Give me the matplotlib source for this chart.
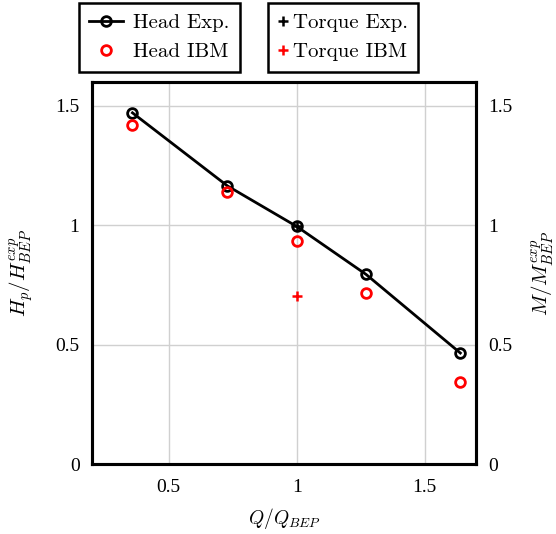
import matplotlib.pyplot as plt
from matplotlib.lines import Line2D

plt.rcParams['mathtext.fontset'] = 'cm'
plt.rcParams['font.family'] = ['Liberation Serif', 'DejaVu Serif']

# flow rate / BEP
q_head = [0.358, 0.729, 1.0, 1.271, 1.639]
head_exp = [1.471, 1.165, 0.995, 0.794, 0.465]
head_ibm = [1.42, 1.139, 0.936, 0.715, 0.343]
q_torque = [1.0]
torque_exp = [0.995]
torque_ibm = [0.704]

ticks_x = [0.5, 1, 1.5]
ticks_y = [0, 0.5, 1, 1.5]
tick_labels_y = ['0', '0.5', '1', '1.5']


def main():
    fig = plt.figure(figsize=(5.56, 5.34), dpi=100)
    ax = fig.add_axes([0.1655, 0.131, 0.6905, 0.7154])
    ax2 = ax.twinx()

    ax.plot(q_head, head_exp, color='k', linewidth=2.0, marker='o',
            markersize=7, markerfacecolor='none', markeredgewidth=2.0)
    ax.plot(q_head, head_ibm, linestyle='none', marker='o', markersize=7,
            markerfacecolor='none', markeredgecolor='red', markeredgewidth=2.0)
    ax2.plot(q_torque, torque_exp, linestyle='none', marker='+', color='k',
             markersize=7, markeredgewidth=1.8)
    ax2.plot(q_torque, torque_ibm, linestyle='none', marker='+', color='red',
             markersize=7, markeredgewidth=1.8)

    for a in (ax, ax2):
        a.set_xlim(0.2, 1.7)
        a.set_ylim(0, 1.6)
        a.set_yticks(ticks_y)
        a.set_yticklabels(tick_labels_y)
        a.tick_params(length=0, labelsize=14, pad=9)
        for s in a.spines.values():
            s.set_linewidth(2.2)
    ax.set_xticks(ticks_x)
    ax.set_xticklabels(['0.5', '1', '1.5'])
    ax.tick_params(axis='x', pad=11)
    ax.grid(True, color='#d0d0d0', linewidth=1.0)
    ax.set_axisbelow(True)

    ax.set_xlabel(r'$Q/Q_{BEP}$', fontsize=14, labelpad=7)
    ax.set_ylabel(r'$H_p/H_{BEP}^{exp}$', fontsize=15, labelpad=14)
    ax2.set_ylabel(r'$M/M_{BEP}^{exp}$', fontsize=15, labelpad=12)

    h1 = [Line2D([], [], color='k', linewidth=2.0, marker='o', markersize=7,
                 markerfacecolor='none', markeredgewidth=2.0),
          Line2D([], [], linestyle='none', marker='o', markersize=7,
                 markerfacecolor='none', markeredgecolor='red', markeredgewidth=2.0)]
    h2 = [Line2D([], [], linestyle='none', marker='+', color='k', markersize=7,
                 markeredgewidth=1.8),
          Line2D([], [], linestyle='none', marker='+', color='red', markersize=7,
                 markeredgewidth=1.8)]
    leg_font = {'family': 'cmr10', 'size': 15}
    leg1 = fig.legend(h1, ['Head Exp.', 'Head IBM'], loc='upper left',
                      bbox_to_anchor=(0.142, 0.994), borderaxespad=0,
                      prop=leg_font, fancybox=False, edgecolor='k',
                      handlelength=1.6, handletextpad=0.5, borderpad=0.5,
                      labelspacing=0.5, framealpha=1)
    leg1.get_frame().set_linewidth(1.8)
    leg2 = fig.legend(h2, ['Torque Exp.', 'Torque IBM'], loc='upper left',
                      bbox_to_anchor=(0.482, 0.994), borderaxespad=0,
                      prop=leg_font, fancybox=False, edgecolor='k',
                      handlelength=0.45, handletextpad=0.25, borderpad=0.5,
                      labelspacing=0.5, framealpha=1)
    leg2.get_frame().set_linewidth(1.8)

    fig.savefig('out.png', dpi=100)


if __name__ == '__main__':
    main()
